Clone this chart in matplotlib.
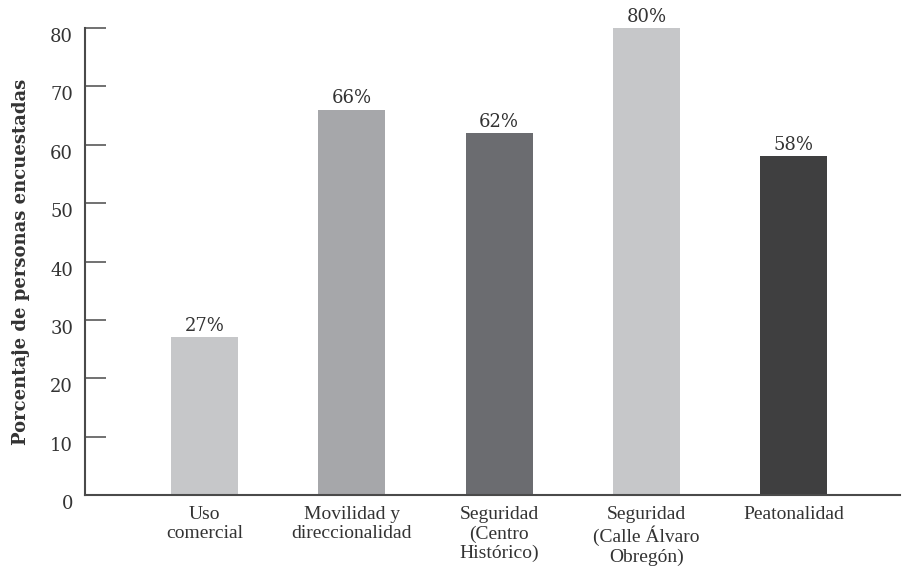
import matplotlib
matplotlib.use("Agg")

import matplotlib.pyplot as plt

# ── Datos ──────────────────────────────────────────────────────────
categorias = [
    "Uso\ncomercial",
    "Movilidad y\ndireccionalidad",
    "Seguridad\n(Centro\nHistórico)",
    "Seguridad\n(Calle Álvaro\nObregón)",
    "Peatonalidad",
]
porcentajes = [27, 66, 62, 80, 58]
colores = ["#c6c7c9", "#a6a7aa", "#6b6c70", "#c6c7c9", "#3f3f40"]
yticks = [0, 10, 20, 30, 40, 50, 60, 70, 80]

EJE = "#4a4a4a"
TEXTO = "#333333"

fig = plt.figure(figsize=(9.03, 5.74), dpi=100)
ax = fig.add_axes([0.0941, 0.1376, 0.9025, 0.8136])

x = range(len(categorias))
bars = ax.bar(x, porcentajes, width=0.455, color=colores, zorder=2)

for rect, val in zip(bars, porcentajes):
    ax.text(rect.get_x() + rect.get_width() / 2, val + 0.4, f"{val}%",
            ha="center", va="bottom", fontsize=13, color=TEXTO,
            family="DejaVu Serif")

ax.set_xlim(-0.81, 4.72)
ax.set_ylim(0, 80)

ax.spines[["top", "right"]].set_visible(False)
for side in ("left", "bottom"):
    ax.spines[side].set_color(EJE)
    ax.spines[side].set_linewidth(1.5)

ax.set_yticks(yticks)
ax.set_yticklabels([str(v) for v in yticks], family="DejaVu Serif",
                   fontsize=13, color=TEXTO, va="top")
ax.tick_params(axis="y", direction="in", length=15, width=1.1,
               color=EJE, pad=8.5)

ax.set_xticks(list(x))
ax.set_xticklabels(categorias, family="Liberation Serif", fontsize=14,
                   color=TEXTO, linespacing=1.17, va="top")
ax.tick_params(axis="x", length=0, pad=8)

ax.set_ylabel("Porcentaje de personas encuestadas", family="DejaVu Serif",
              fontweight="bold", fontsize=13, color=TEXTO)
ax.yaxis.set_label_coords(-0.068, 0.5)

fig.savefig("out.png", dpi=100)
